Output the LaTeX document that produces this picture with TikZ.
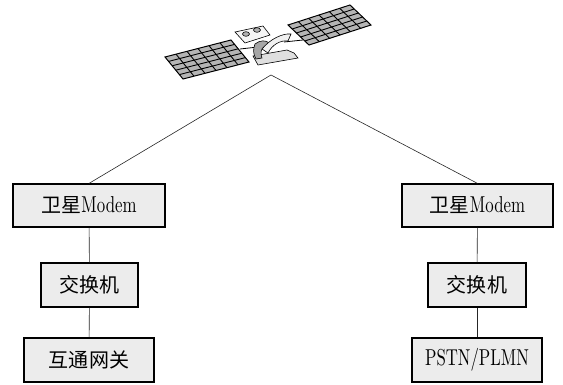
\documentclass[tikz,border=0pt]{standalone}
\usepackage{fontspec}
\setmainfont{lmroman10-regular.otf}[FakeStretch=0.73]
\newfontfamily\cjk[Scale=0.87]{Noto Sans CJK SC}
\begin{document}
\begin{tikzpicture}[x=1pt,y=-1pt,
  unitbox/.style={draw=black,line width=1.2pt,fill=gray!15,inner sep=0pt,
    font=\fontsize{23}{26}\selectfont},
  link/.style={draw=black!85,line width=0.6pt},
  panelframe/.style={draw=black,line width=1pt,fill=gray!58},
  gridline/.style={draw=black,line width=0.9pt},
  part/.style={draw=black,line width=0.6pt}]
\useasboundingbox (0,0) rectangle (563,385);

% ground stations
\node[unitbox,minimum width=152pt,minimum height=43pt] (lm) at (89,205.5) {{\cjk 卫星}Modem};
\node[unitbox,minimum width=97pt,minimum height=44pt] (ls) at (89.5,285) {\cjk 交换机};
\node[unitbox,minimum width=130pt,minimum height=44pt] (lg) at (89,360) {\cjk 互通网关};
\node[unitbox,minimum width=151pt,minimum height=43pt] (rm) at (477.5,205.5) {{\cjk 卫星}Modem};
\node[unitbox,minimum width=98pt,minimum height=44pt] (rs) at (477,285) {\cjk 交换机};
\node[unitbox,minimum width=130pt,minimum height=44pt] (rp) at (477,360) {PSTN/PLMN};

\coordinate (apex) at (271,75);
\draw[link] (apex) -- (lm.north);
\draw[link] (apex) -- (rm.north);
\draw[link] (lm) -- (ls);
\draw[link] (ls) -- (lg);
\draw[link] (rm) -- (rs);
\draw[link] (rs) -- (rp);

% satellite: booms
\draw[line width=0.8pt] (240,49) -- (258,47);
\draw[line width=0.8pt] (284,42) -- (303,40);

% left solar panel
\begin{scope}[shift={(165,57)},x={(66pt,17pt)},y={(18pt,-22pt)}]
  \draw[panelframe] (0,0) -- (1,0) -- (1,1) -- (0,1) -- cycle;
  \foreach \i in {1,...,5} \draw[gridline] ({\i/6},0) -- ({\i/6},1);
  \foreach \j in {1,...,4} \draw[gridline] (0,{\j/5}) -- (1,{\j/5});
\end{scope}

% right solar panel
\begin{scope}[shift={(288,25)},x={(62pt,20pt)},y={(21pt,-20pt)}]
  \draw[panelframe] (0,0) -- (1,0) -- (1,1) -- (0,1) -- cycle;
  \foreach \i in {1,...,5} \draw[gridline] ({\i/6},0) -- ({\i/6},1);
  \foreach \j in {1,...,4} \draw[gridline] (0,{\j/5}) -- (1,{\j/5});
\end{scope}

% satellite body
\draw[part,fill=gray!8] (235,32) -- (263,26) -- (270,35) -- (245,43) -- cycle;
\draw[part,fill=gray!60] (246,34) ellipse (3.5 and 2.3);
\draw[part,fill=gray!60] (257,30) ellipse (3.5 and 2.3);
\draw[part,fill=gray!25] (253,56) -- (287,50) -- (294,53) -- (298,58) -- (258,65) -- cycle;
\draw[part,fill=gray!70] (255,44) .. controls (260,40) and (266,40) .. (269,43)
  -- (264,47) .. controls (261,49) and (260,53) .. (262,58)
  -- (256,59) .. controls (253,54) and (253,49) .. (255,44) -- cycle;
\draw[part,fill=gray!12] (262,49) .. controls (270,39) and (283,33) .. (291,34)
  -- (288,41) .. controls (280,40) and (272,45) .. (268,53) -- cycle;
\end{tikzpicture}
\end{document}
